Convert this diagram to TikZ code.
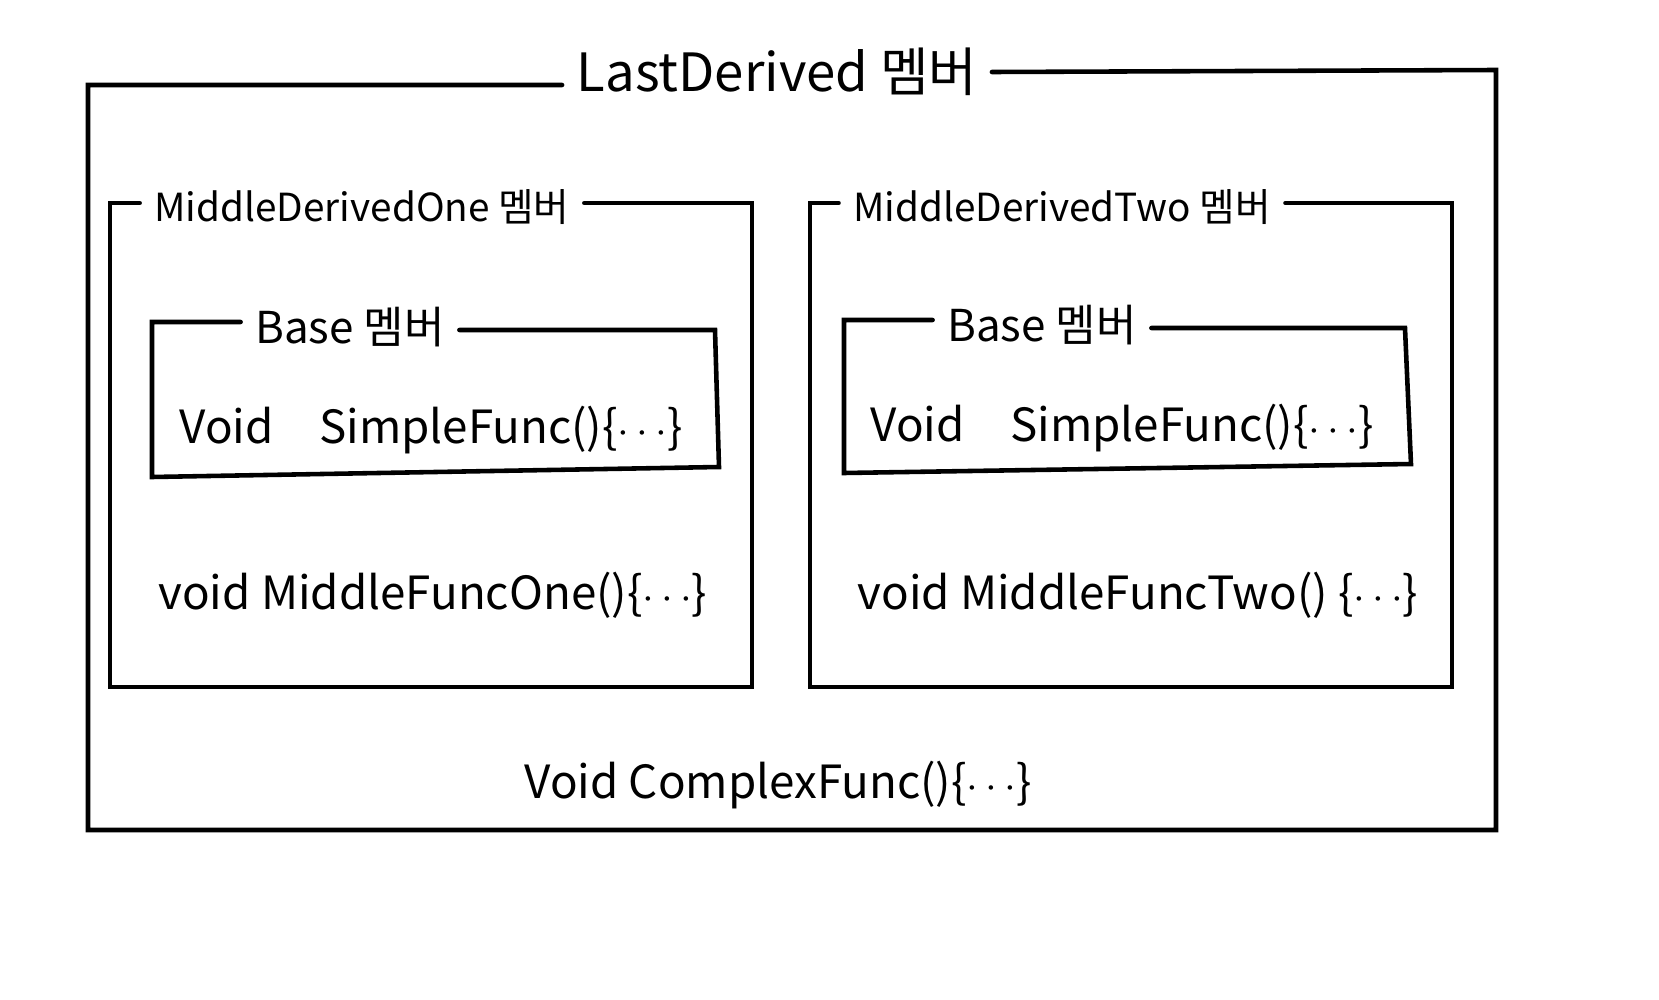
\documentclass[tikz,border=0pt]{standalone}
\usepackage{fontspec}
\setmainfont{Noto Sans CJK KR}
\usepackage{tikz}

\tikzset{
    box/.style={black, line width=1.3pt, line cap=round},
    ttl/.style={inner xsep=4pt, inner ysep=2pt, font=\fontsize{11}{13}\selectfont},
    code/.style={inner sep=2pt, font=\fontsize{13}{16}\selectfont},
}

\begin{document}
\begin{tikzpicture}[x=0.01cm, y=-0.01cm]

    \useasboundingbox (0,0) rectangle (1659,1000);

    % LastDerived
    \node[ttl, font=\fontsize{15}{18}\selectfont] (lastTtl) at (777,72) {LastDerived 멤버};
    \node[code] (complex) at (778,785) {Void ComplexFunc()\{$\cdots$\}};
    \draw[box] (lastTtl.west |- 0,85) -- (88,85) -- (88,830) -- (1496,830) -- (1496,70) -- (lastTtl.east |- 0,72);

    % MiddleDerivedOne
    \node[ttl] (oneTtl) at (362,207) {MiddleDerivedOne 멤버};
    \node[code] (midOne) at (433,595) {void MiddleFuncOne()\{$\cdots$\}};
    \draw[box] (oneTtl.west |- 0,203) -- (110,203) -- (110,687) -- (752,687) -- (752,203) -- (oneTtl.east |- 0,203);

    % Base (in One)
    \node[ttl, font=\fontsize{12.5}{15}\selectfont] (baseOneTtl) at (350,327) {Base 멤버};
    \node[code] (simpleOne) at (431,430) {Void\quad SimpleFunc()\{$\cdots$\}};
    \draw[box] (baseOneTtl.west |- 0,322) -- (152,322) -- (152,477) -- (719,467) -- (715,330) -- (baseOneTtl.east |- 0,330);

    % MiddleDerivedTwo
    \node[ttl] (twoTtl) at (1062,207) {MiddleDerivedTwo 멤버};
    \node[code] (midTwo) at (1138,595) {void MiddleFuncTwo() \{$\cdots$\}};
    \draw[box] (twoTtl.west |- 0,203) -- (810,203) -- (810,687) -- (1452,687) -- (1452,203) -- (twoTtl.east |- 0,203);

    % Base (in Two)
    \node[ttl, font=\fontsize{12.5}{15}\selectfont] (baseTwoTtl) at (1042,325) {Base 멤버};
    \node[code] (simpleTwo) at (1122,428) {Void\quad SimpleFunc()\{$\cdots$\}};
    \draw[box] (baseTwoTtl.west |- 0,320) -- (844,320) -- (844,473) -- (1411,464) -- (1405,328) -- (baseTwoTtl.east |- 0,328);

\end{tikzpicture}
\end{document}
